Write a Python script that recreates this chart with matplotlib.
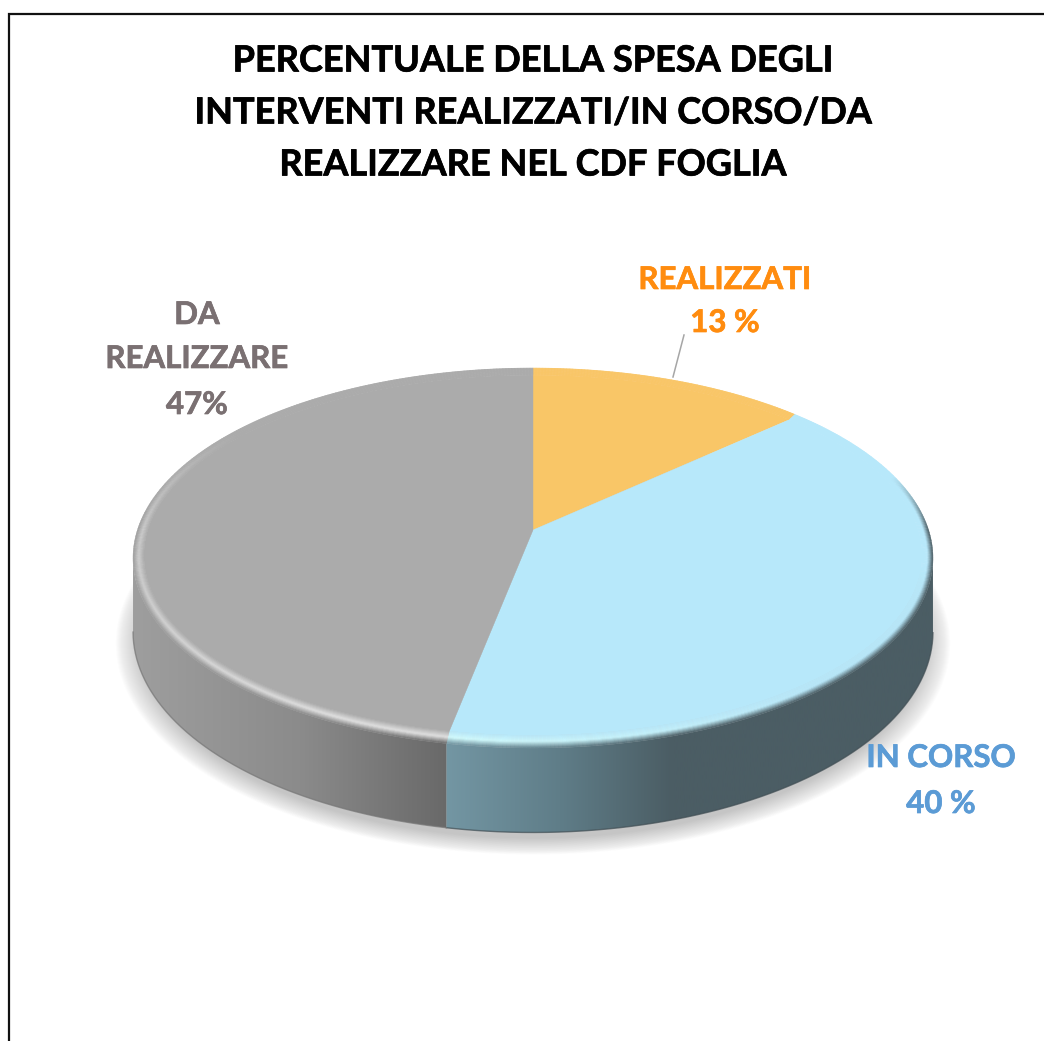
import numpy as np
import matplotlib
matplotlib.use('Agg')
import matplotlib.pyplot as plt
import matplotlib.patheffects as pe
from matplotlib.collections import PolyCollection
from matplotlib.patches import Polygon
from matplotlib.colors import to_rgb

# dati
categories = ['REALIZZATI', 'IN CORSO', 'DA REALIZZARE']
values = [13, 40, 47]
title_lines = ['PERCENTUALE DELLA SPESA DEGLI',
               'INTERVENTI REALIZZATI/IN CORSO/DA',
               'REALIZZARE NEL CDF FOGLIA']
label_lines = [['REALIZZATI', '13 %'], ['IN CORSO', '40 %'], ['DA', 'REALIZZARE', '47%']]

# stile
plt.rcParams['font.family'] = ['Lato', 'DejaVu Sans']
face_colors = ['#F9C667', '#B7E8FA', '#ABABAB']
label_colors = ['#FF8C0F', '#5B9BD5', '#7A7072']
highlight_colors = ['#F9C667', '#D2FDFF', '#E2E2E2']
label_pos = [(725, [280, 323]), (941, [758, 804]), (197, [315, 359, 405])]

# prospettiva del disco (pixel)
CX, CY = 533, 530
AX, AY, P = 395.6, 185.9, 0.1474
WALL = 72


def project(theta, sx=1.0, sy=1.0, drop=0.0):
    u = np.sin(theta) * sx
    v = np.cos(theta) * sy
    w = 1 + P * v
    return CX + AX * u / w, CY - AY * v / w + drop / w


def mix(a, b, t):
    a, b = np.array(to_rgb(a)), np.array(to_rgb(b))
    return a + (b - a) * np.clip(t, 0, 1)


def wall_color(i, x):
    if i == 0:
        return np.array(to_rgb('#8A7040'))
    if i == 1:
        xs = [447, 560, 672, 933]
        cs = ['#7396A3', '#5F7D88', '#4B5D64', '#4B5D64']
    else:
        xs = [133, 300, 447]
        cs = ['#9E9E9E', '#8B8B8B', '#696969']
    rgb = np.array([to_rgb(c) for c in cs])
    return np.array([np.interp(x, xs, rgb[:, k]) for k in range(3)])


fig = plt.figure(figsize=(10.44, 10.41), dpi=100)
ax = fig.add_axes([0, 0, 1, 1])
ax.axis('off')

# cornice
ax.plot([9, 9, 1044], [1041, 14, 14], color='#111111', lw=1.6, solid_joinstyle='miter')

# ombra
full = np.linspace(0, 2 * np.pi, 361)
for k in range(26):
    s = 1.042 - k * 0.0024
    x, y = project(full, s, s, WALL + 9)
    ax.fill(x, y, color='#707070', alpha=0.014, lw=0, zorder=1)

# fette
fractions = np.array(values) / sum(values)
edges = 2 * np.pi * np.concatenate([[0], np.cumsum(fractions)])
BX, BY = 0.026, 0.05  # larghezza smusso

for i in range(len(values)):
    n = max(int(np.degrees(edges[i + 1] - edges[i])), 2) * 2
    th = np.linspace(edges[i], edges[i + 1], n + 1)

    # parete laterale: solo la parte davanti, sfumatura orizzontale ritagliata
    front = np.cos(th) < -P
    if front.sum() > 1:
        x0, y0 = project(th[front])
        x1, y1 = project(th[front], drop=WALL)
        xs = np.linspace(x0.min(), x0.max(), 200)
        grad = np.array([[wall_color(i, xx) for xx in xs]])
        im = ax.imshow(grad, extent=(xs[0], xs[-1], 1041, 0), aspect='auto', zorder=2, interpolation='bilinear')
        poly = Polygon(np.c_[np.r_[x0, x1[::-1]], np.r_[y0, y1[::-1]]], closed=True, transform=ax.transData)
        im.set_clip_path(poly)
        edge_col = mix(wall_color(i, x1.mean()), '#222222', 0.25)
        ax.plot(x1, y1, color=edge_col, lw=1.0, alpha=0.7, zorder=2.1)

    # faccia superiore
    xf, yf = project(th, 1 - BX, 1 - BY)
    ax.fill(np.r_[CX, xf], np.r_[CY, yf], color=face_colors[i], lw=0.3, zorder=3)

    # smusso
    rings = np.linspace(0, 1, 13)
    quads = []
    cols = []
    for a, b in zip(rings[:-1], rings[1:]):
        xa, ya = project(th, 1 - BX * (1 - a), 1 - BY * (1 - a))
        xb, yb = project(th, 1 - BX * (1 - b), 1 - BY * (1 - b))
        t = (a + b) / 2
        for j in range(n):
            mid = (th[j] + th[j + 1]) / 2
            vis = np.clip((0.3 - np.cos(mid)) / 0.3, 0, 1)
            if i == 1:
                glow = np.clip((np.degrees(mid) - 140) / 50, 0, 1)
            else:
                glow = np.clip((305 - np.degrees(mid)) / 35, 0, 1) * 0.55 + np.clip((265 - np.degrees(mid)) / 60, 0, 1) * 0.45
            hl = mix(face_colors[i], highlight_colors[i], glow)
            wc = mix(face_colors[i], wall_color(i, (xa[j] + xa[j + 1]) / 2), vis)
            if t < 0.5:
                c = mix(face_colors[i], hl, t / 0.5)
            else:
                c = mix(hl, wc, (t - 0.5) / 0.5)
            quads.append([(xa[j], ya[j]), (xa[j + 1], ya[j + 1]), (xb[j + 1], yb[j + 1]), (xb[j], yb[j])])
            cols.append(c)
    ax.add_collection(PolyCollection(quads, facecolors=cols, edgecolors=cols, linewidths=0.3, zorder=4))

ax.set_xlim(0, 1044)
ax.set_ylim(1041, 0)

# linea guida
ax.plot([684, 673], [335, 377], color='#A6A6A6', lw=1.1, zorder=5)

# testi
for line, yy in zip(title_lines, [61, 113, 165]):
    t = ax.text(533, yy, line, ha='center', va='center', fontsize=26, fontweight='bold', color='black')
    t.set_path_effects([pe.withStroke(linewidth=0.5, foreground='black')])
for lines, col, (xx, ys) in zip(label_lines, label_colors, label_pos):
    for line, yy in zip(lines, ys):
        t = ax.text(xx, yy, line, ha='center', va='center', fontsize=22.5, fontweight='bold', color=col, zorder=6)
        t.set_path_effects([pe.withStroke(linewidth=0.5, foreground=col)])

fig.savefig('out.png', dpi=100)
